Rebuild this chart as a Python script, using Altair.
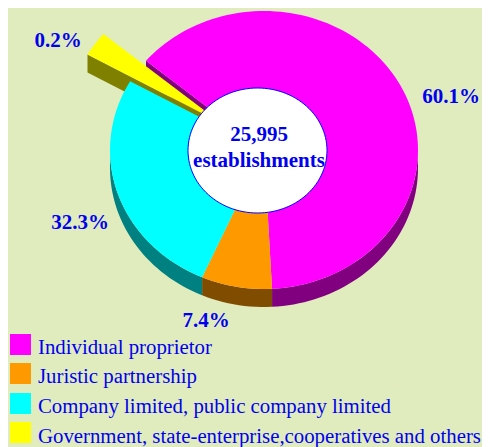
import math
import altair as alt

# --- data ---
CATEGORIES = [
    "Individual proprietor",
    "Juristic partnership",
    "Company limited, public company limited",
    "Government, state-enterprise,cooperatives and others",
]
PERCENT_LABELS = ["60.1%", "7.4%", "32.3%", "0.2%"]
# angular sweep each slice occupies as drawn in the picture (degrees; the 3-D view distorts shares)
DRAWN_SWEEP = [227.0, 26.7, 95.9, 10.4]
CENTER_LINES = ["25,995", "establishments"]

# --- styles ---
TOP_COLORS = ["#FF00FF", "#FF9900", "#00FFFF", "#FFFF00"]
SIDE_COLORS = ["#800080", "#804D00", "#008080", "#808000"]
BG = "#E0ECBE"
BLUE = "#0000F0"
SERIF = "Liberation Serif"

# --- layout (picture pixels) ---
W, H = 474, 439
CX, CY, RX, RY, DEPTH = 264, 150, 154, 139, 18
START_DEG = 310.0
EXPLODE = [0, 0, 0, 0.337]
HOLE = (257.5, 150.5, 69.5, 62.5)
LABEL_POS = [(451, 97), (206, 321), (80, 223), (58, 41)]
CENTER_POS = [(259, 135), (259, 161)]
LEGEND_SWATCH_X, LEGEND_TEXT_X = 20.5, 38
LEGEND_SWATCH_Y = [344.5, 373.5, 403.5, 432.5]
LEGEND_BASELINE_Y = [354, 383, 413, 443]


def pt(c, t, dy=0):
    a = math.radians(t)
    return [c[0] + RX * math.sin(a), c[1] - RY * math.cos(a) + dy]


def arc(c, t0, t1, dy=0):
    n = max(2, int(abs(t1 - t0) / 2))
    return [pt(c, t0 + (t1 - t0) * i / n, dy) for i in range(n + 1)]


def feature(ring, name, color):
    return {
        "type": "Feature",
        "properties": {"name": name, "color": color},
        "geometry": {"type": "Polygon", "coordinates": [ring + [ring[0]]]},
    }


slices = []
t = START_DEG
for i, sweep in enumerate(DRAWN_SWEEP):
    a0 = t
    a1 = t + sweep
    mid = math.radians((a0 + a1) / 2)
    c = (CX + EXPLODE[i] * RX * math.sin(mid), CY - EXPLODE[i] * RY * math.cos(mid))
    slices.append((c, a0 % 360, (a0 % 360) + sweep))
    t = a1

tops = [
    feature([list(c)] + arc(c, a0, a1), CATEGORIES[i], TOP_COLORS[i])
    for i, (c, a0, a1) in enumerate(slices)
]
# painter's order: magenta, orange, yellow, cyan (cyan lies over the yellow wall)
tops = [tops[0], tops[1], tops[3], tops[2]]

walls = []
# cut wall of the first slice, seen through the gap left by the exploded slice
c, a0, a1 = slices[0]
walls.append(feature([list(c), pt(c, a0), pt(c, a0, DEPTH), [c[0], c[1] + DEPTH]], "w0", SIDE_COLORS[0]))
# cut wall of the exploded slice
c, a0, a1 = slices[3]
walls.append(feature([list(c), pt(c, a0), pt(c, a0, DEPTH), [c[0], c[1] + DEPTH]], "w3", SIDE_COLORS[3]))
# outer rim, only on the part facing the viewer (clock angles 90..270)
RIMS = [(0, 90, 177.0), (1, 177.0, 203.7), (2, 203.7, 270)]
for i, lo, hi in RIMS:
    c = slices[i][0]
    ring = arc(c, lo, hi) + arc(c, hi, lo, DEPTH)
    walls.append(feature(ring, f"r{i}", SIDE_COLORS[i]))

hole_ring = [
    [HOLE[0] + HOLE[2] * math.sin(math.radians(a)), HOLE[1] - HOLE[3] * math.cos(math.radians(a))]
    for a in range(0, 360, 3)
]
hole = [feature(hole_ring, "hole", "#FFFFFF")]

proj = dict(type="identity", scale=1, translate=[-8, -8])

wall_layer = (
    alt.Chart(alt.Data(values=walls))
    .mark_geoshape(strokeWidth=0)
    .encode(color=alt.Color("properties.color:N", scale=None, legend=None))
    .project(**proj)
)
top_layer = (
    alt.Chart(alt.Data(values=tops))
    .mark_geoshape(strokeWidth=0)
    .encode(color=alt.Color("properties.color:N", scale=None, legend=None))
    .project(**proj)
)
hole_layer = (
    alt.Chart(alt.Data(values=hole))
    .mark_geoshape(fill="#FFFFFF", stroke="#0000FF", strokeWidth=1)
    .project(**proj)
)


def text_layer(s, pos, size):
    return (
        alt.Chart(alt.Data(values=[{"t": s}]))
        .mark_text(font=SERIF, fontSize=size, fontWeight="bold", color=BLUE, baseline="middle", align="center")
        .encode(text="t:N", x=alt.value(pos[0] - 8), y=alt.value(pos[1] - 8))
    )


texts = [text_layer(s, p, 21) for s, p in zip(PERCENT_LABELS, LABEL_POS)]
texts += [text_layer(s, p, 21) for s, p in zip(CENTER_LINES, CENTER_POS)]

legend = []
for name, color, sy, by in zip(CATEGORIES, TOP_COLORS, LEGEND_SWATCH_Y, LEGEND_BASELINE_Y):
    row = alt.Data(values=[{"t": name}])
    legend.append(
        alt.Chart(row)
        .mark_square(size=441, filled=True, color=color, opacity=1, strokeWidth=0)
        .encode(x=alt.value(LEGEND_SWATCH_X - 8), y=alt.value(sy - 8))
    )
    legend.append(
        alt.Chart(row)
        .mark_text(font=SERIF, fontSize=20.8, color=BLUE, align="left", baseline="alphabetic")
        .encode(text="t:N", x=alt.value(LEGEND_TEXT_X - 8), y=alt.value(by - 8))
    )

chart = (
    alt.layer(wall_layer, top_layer, hole_layer, *texts, *legend)
    .resolve_scale(color="independent")
    .properties(width=W, height=H, padding=0, autosize=alt.AutoSizeParams(type="none"), background=BG)
    .configure_view(stroke=None)
)

chart.save("out.html", embed_options={"renderer": "svg", "actions": False})
